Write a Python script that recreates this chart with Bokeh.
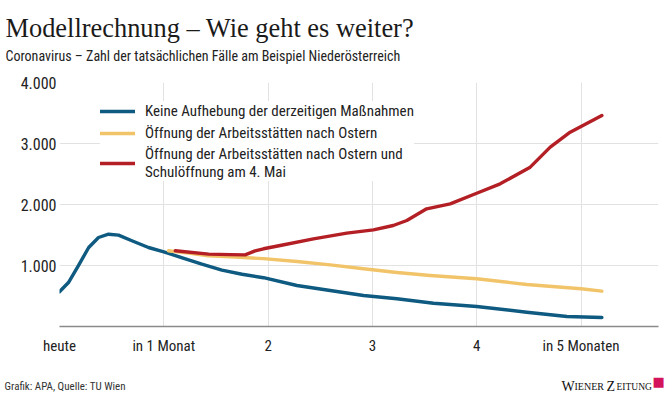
from bokeh.plotting import figure
from bokeh.layouts import column
from bokeh.models import Label, Legend, LegendItem, FixedTicker, Range1d
from bokeh.embed import file_html
from bokeh.resources import INLINE

# ---- data (months from today, cases) ----
blue_x = [0, 0.086, 0.18, 0.28, 0.374, 0.47, 0.566, 0.694, 0.853, 1.0, 1.17, 1.365, 1.557, 1.75,
          1.956, 2.276, 2.595, 2.915, 3.235, 3.586, 4.0, 4.48, 4.865, 5.2]
blue_y = [570, 721, 995, 1295, 1459, 1513, 1497, 1405, 1295, 1224, 1131, 1022, 923, 857,
          800, 672, 590, 508, 454, 382, 328, 234, 164, 148]
yellow_x = [1.045, 1.237, 1.43, 1.685, 1.956, 2.276, 2.595, 2.915, 3.235, 3.554, 4.0, 4.48, 5.0, 5.2]
yellow_y = [1241, 1202, 1159, 1140, 1112, 1066, 1011, 946, 885, 836, 782, 689, 618, 579]
red_x = [1.11, 1.43, 1.637, 1.78, 1.876, 1.956, 2.116, 2.435, 2.755, 3.01, 3.2, 3.33, 3.52,
         3.746, 4.0, 4.225, 4.513, 4.705, 4.896, 5.2]
red_y = [1241, 1186, 1178, 1175, 1241, 1274, 1328, 1437, 1530, 1585, 1656, 1738, 1929,
         2011, 2185, 2339, 2612, 2940, 3185, 3459]

x_ticks = [0, 1, 2, 3, 4, 5]
x_labels = ["heute", "in 1 Monat", "2", "3", "4", "in 5 Monaten"]
y_ticks = [1000, 2000, 3000, 4000]
y_labels = ["1.000", "2.000", "3.000", "4.000"]
series_names = ["Keine Aufhebung der derzeitigen Maßnahmen",
                "Öffnung der Arbeitsstätten nach Ostern",
                "Öffnung der Arbeitsstätten nach Ostern und\nSchulöffnung am 4. Mai"]

title_text = "Modellrechnung – Wie geht es weiter?"
subtitle_text = "Coronavirus – Zahl der tatsächlichen Fälle am Beispiel Niederösterreich"
source_text = "Grafik: APA, Quelle: TU Wien"

COND = "Liberation Sans Narrow, Roboto Condensed, Roboto"
BLUE, YELLOW, RED = "#0e5a80", "#f2c46a", "#b31f24"
W = 672
HEAD_H, MAIN_H, FOOT_H = 68, 300, 25


def blank(h):
    f = figure(width=W, height=h, output_backend="svg", toolbar_location=None,
               x_range=Range1d(0, W), y_range=Range1d(0, h),
               x_axis_type=None, y_axis_type=None, frame_align=False,
               min_border_left=0, min_border_right=0, min_border_top=0, min_border_bottom=0)
    f.outline_line_color = None
    f.grid.visible = False
    f.background_fill_color = "white"
    f.border_fill_color = "white"
    return f


def lab(f, text, x, y_img_base, top_img, font, size, color="#222222", baseline="alphabetic"):
    # y measured upward from bottom of the frame (which fills the canvas)
    h = f.height
    f.add_layout(Label(text=text, x=x, y=h - (y_img_base - top_img), x_units="screen", y_units="screen",
                       text_font=font, text_font_size=size, text_color=color,
                       text_baseline=baseline))


# ---- header ----
head = blank(HEAD_H)
lab(head, title_text, 5, 27, 0, "Liberation Serif", "26.4px", "#1a1a1a")
lab(head, subtitle_text, 5, 55, 0, COND, "14px", "#222222")

# ---- main chart ----
p = figure(width=W, height=MAIN_H, output_backend="svg", toolbar_location=None,
           x_range=Range1d(0, 5.743), y_range=Range1d(0, 4000),
           min_border_left=59, min_border_right=14, min_border_top=14, min_border_bottom=42)
p.outline_line_color = None
p.background_fill_color = "white"
p.border_fill_color = "white"

r_blue = p.line(blue_x, blue_y, line_color=BLUE, line_width=3.4, line_join="round", line_cap="round")
r_yel = p.line(yellow_x, yellow_y, line_color=YELLOW, line_width=3.4, line_join="round", line_cap="round")
r_red = p.line(red_x, red_y, line_color=RED, line_width=3.4, line_join="round", line_cap="round")

xa = p.xaxis[0]
xa.ticker = FixedTicker(ticks=x_ticks)
xa.major_label_overrides = {t: l for t, l in zip(x_ticks, x_labels)}
xa.axis_line_color = "#8a8a8a"
xa.axis_line_width = 1.5
xa.major_tick_line_color = None
xa.minor_tick_line_color = None
xa.major_tick_out = 0
xa.major_label_standoff = 10
xa.major_label_text_font = COND
xa.major_label_text_font_size = "15px"
xa.major_label_text_color = "#222222"

ya = p.yaxis[0]
ya.ticker = FixedTicker(ticks=y_ticks)
ya.major_label_overrides = {t: l for t, l in zip(y_ticks, y_labels)}
ya.axis_line_color = None
ya.major_tick_line_color = None
ya.minor_tick_line_color = None
ya.major_tick_out = 0
ya.major_label_standoff = 3
ya.major_label_text_font = COND
ya.major_label_text_font_size = "16px"
ya.major_label_text_color = "#222222"

p.xgrid.ticker = FixedTicker(ticks=x_ticks)
p.ygrid.ticker = FixedTicker(ticks=y_ticks)
p.xgrid.grid_line_color = "#e2e2e2"
p.ygrid.grid_line_color = "#e2e2e2"

legend = Legend(items=[LegendItem(label=series_names[0], renderers=[r_blue]),
                       LegendItem(label=series_names[1], renderers=[r_yel]),
                       LegendItem(label=series_names[2], renderers=[r_red])],
                location=(41, 145), padding=8, spacing=2,
                glyph_width=35, glyph_height=20, label_height=20, label_standoff=10,
                label_text_font=COND, label_text_font_size="15px", label_text_color="#222222",
                label_text_line_height=1.1,
                background_fill_color="white", background_fill_alpha=1.0,
                border_line_color=None)
p.add_layout(legend, "center")

# ---- footer ----
foot = blank(FOOT_H)
FT = HEAD_H + MAIN_H
lab(foot, source_text, 4, 386, FT, COND, "11px", "#333333")
lab(foot, "W", 561, 386, FT, "Liberation Serif", "14px", "#111111")
lab(foot, "IENER", 574, 386, FT, "Liberation Serif", "10px", "#111111")
lab(foot, "Z", 606, 386, FT, "Liberation Serif", "14px", "#111111")
lab(foot, "EITUNG", 616, 386, FT, "Liberation Serif", "9.5px", "#111111")
lab(foot, "■", 652, 381, FT, "DejaVu Sans", "13px", "#d4145a", baseline="middle")

layout = column(head, p, foot, spacing=0)
open("out.html", "w").write(file_html(layout, INLINE))
